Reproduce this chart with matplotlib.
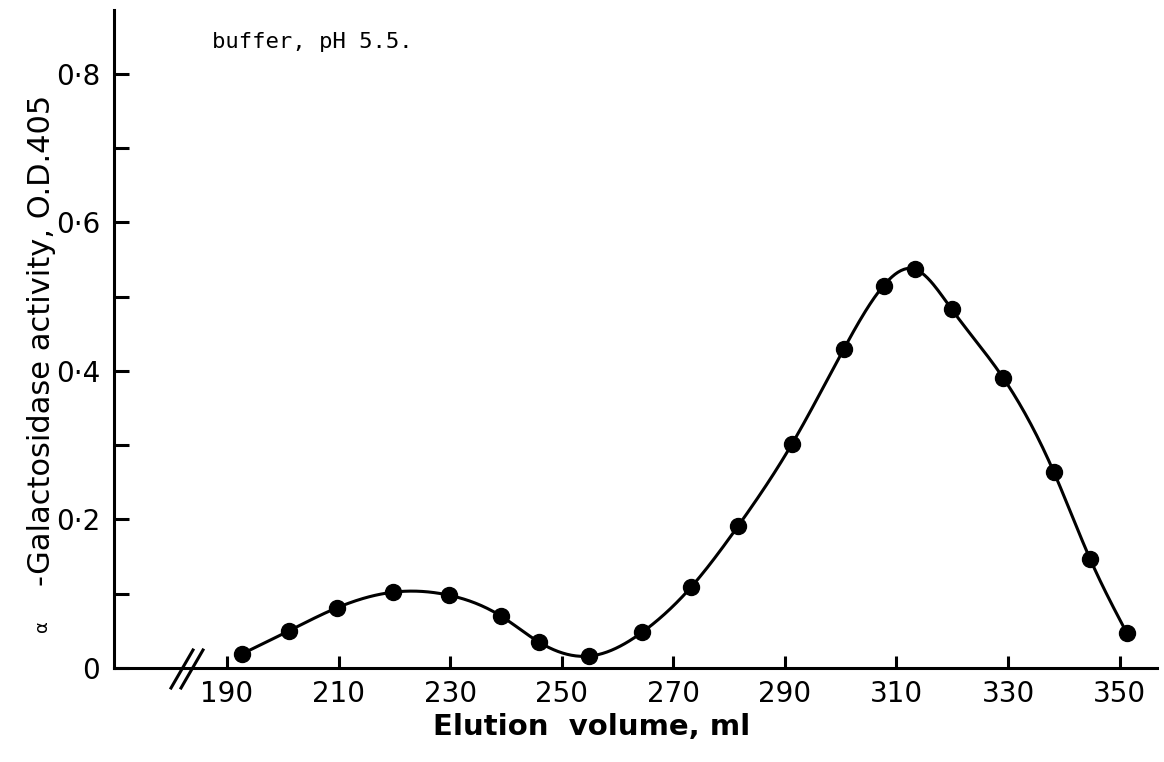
import numpy as np
import matplotlib
matplotlib.use("Agg")
import matplotlib.pyplot as plt
from matplotlib.lines import Line2D

# values
elution_ml = [192.7, 201.1, 209.7, 219.7, 229.8, 239.1, 245.9, 254.9, 264.4, 273.2,
              281.6, 291.3, 300.6, 307.7, 313.3, 319.9, 329.1, 338.2, 344.7, 351.3]
activity_od = [0.019, 0.050, 0.081, 0.102, 0.098, 0.070, 0.035, 0.016, 0.048, 0.109,
               0.191, 0.302, 0.430, 0.515, 0.537, 0.483, 0.391, 0.264, 0.147, 0.047]
x_ticks = [190, 210, 230, 250, 270, 290, 310, 330, 350]
y_major = [0, 0.2, 0.4, 0.6, 0.8]
y_minor = [0.1, 0.3, 0.5, 0.7]
y_labels = ["0", "0·2", "0·4", "0·6", "0·8"]


def natural_spline(x, y, num=600):
    # smooth curve through the points (natural cubic spline)
    x = np.asarray(x, float)
    y = np.asarray(y, float)
    n = len(x)
    h = np.diff(x)
    A = np.zeros((n, n))
    b = np.zeros(n)
    A[0, 0] = A[-1, -1] = 1
    for i in range(1, n - 1):
        A[i, i - 1] = h[i - 1]
        A[i, i] = 2 * (h[i - 1] + h[i])
        A[i, i + 1] = h[i]
        b[i] = 6 * ((y[i + 1] - y[i]) / h[i] - (y[i] - y[i - 1]) / h[i - 1])
    M = np.linalg.solve(A, b)
    xs = np.linspace(x[0], x[-1], num)
    k = np.clip(np.searchsorted(x, xs) - 1, 0, n - 2)
    t1 = x[k + 1] - xs
    t0 = xs - x[k]
    hk = h[k]
    ys = (M[k] * t1 ** 3 + M[k + 1] * t0 ** 3) / (6 * hk) \
        + (y[k] / hk - M[k] * hk / 6) * t1 + (y[k + 1] / hk - M[k + 1] * hk / 6) * t0
    return xs, ys


plt.rcParams['font.family'] = ['DejaVu Sans']

fig = plt.figure(figsize=(11.64, 7.62), dpi=100)
ax = fig.add_axes([114 / 1164, 1 - 668 / 762, (1157 - 114) / 1164, (668 - 10) / 762])

cx, cy = natural_spline(elution_ml, activity_od)
ax.plot(cx, cy, color='black', lw=2.2, solid_capstyle='round')
ax.plot(elution_ml, activity_od, 'o', color='black', ms=11.5, zorder=3)

ax.set_xlim(169.75, 356.7)
ax.set_ylim(0, 0.886)

for side in ('top', 'right'):
    ax.spines[side].set_visible(False)
for side in ('left', 'bottom'):
    ax.spines[side].set_linewidth(2.2)

ax.set_xticks(x_ticks)
ax.set_xticklabels([str(v) for v in x_ticks])
ax.set_yticks(y_major)
ax.set_yticklabels(y_labels)
ax.set_yticks(y_minor, minor=True)
ax.tick_params(axis='both', which='both', direction='in', width=2.2, color='black')
ax.tick_params(axis='y', which='both', length=11, pad=10, labelsize=20)
ax.tick_params(axis='x', which='major', length=9, pad=9, labelsize=20)

# axis break marks on the x axis
for dx in (0, 10):
    fig.add_artist(Line2D([(171 + dx) / 1164, (193 + dx) / 1164],
                          [1 - 688 / 762, 1 - 650 / 762],
                          transform=fig.transFigure, color='black', lw=2.2))

fig.text(592 / 1164, 1 - 727 / 762, "Elution  volume, ml", ha='center', va='center',
         fontsize=21, fontweight='bold')
fig.text(42 / 1164, 1 - 632 / 762, "α", rotation=90, ha='center', va='bottom',
         fontsize=13)
fig.text(42 / 1164, 1 - 340 / 762, "-Galactosidase activity, O.D.405", rotation=90,
         ha='center', va='center', fontsize=22)
fig.text(212 / 1164, 1 - 42 / 762, "buffer, pH 5.5.", ha='left', va='center',
         fontsize=16, family='DejaVu Sans Mono')

fig.savefig("out.png", dpi=100, facecolor='white')
